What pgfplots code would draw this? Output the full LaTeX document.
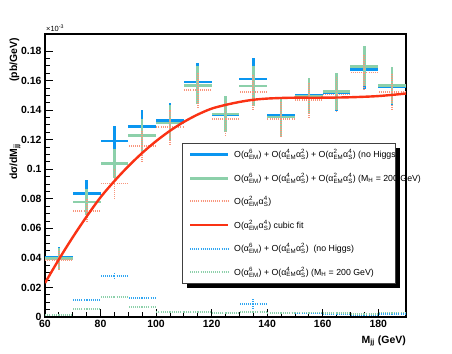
\documentclass[border=0pt]{standalone}
\usepackage{amsmath}
\usepackage{fontspec}
\setmainfont{Liberation Sans}
\usepackage{pgfplots}
\usepackage{pgfplotstable}
\pgfplotsset{compat=1.18}

\definecolor{cblue}{RGB}{10,150,240}
\definecolor{cgreen}{RGB}{140,208,170}
\definecolor{corange}{RGB}{248,150,125}
\definecolor{cred}{RGB}{250,50,20}

% alpha with stacked super/subscript
\newcommand{\ax}[2]{α\ensuremath{^{\text{#1}}_{\text{#2}}}}

% bin centre, value, half bin width, error  (y in units of 1e-3 pb/GeV)
\pgfplotstableread{
x    y       ex  ey
65   0.0401  5   0.0070
75   0.0836  5   0.0090
85   0.1190  5   0.0100
95   0.1290  5   0.0110
105  0.1331  5   0.0120
115  0.1590  5   0.0130
125  0.1370  5   0.0120
135  0.1610  5   0.0140
145  0.1365  5   0.0120
155  0.1498  5   0.0120
165  0.1520  5   0.0125
175  0.1676  5   0.0135
185  0.1556  5   0.0125
}\tblue

\pgfplotstableread{
x    y       ex  ey
65   0.0395  5   0.0070
75   0.0777  5   0.0090
85   0.1038  5   0.0100
95   0.1230  5   0.0110
105  0.1313  5   0.0120
115  0.1568  5   0.0130
125  0.1375  5   0.0120
135  0.1563  5   0.0135
145  0.1353  5   0.0130
155  0.1495  5   0.0120
165  0.1525  5   0.0125
175  0.1697  5   0.0135
185  0.1568  5   0.0125
}\tgreen

\pgfplotstableread{
x    y       ex  ey
65   0.0385  5   0.0065
75   0.0718  5   0.0085
85   0.0903  5   0.0100
95   0.1155  5   0.0110
105  0.1286  5   0.0115
115  0.1534  5   0.0125
125  0.1342  5   0.0120
135  0.1520  5   0.0125
145  0.1338  5   0.0120
155  0.1466  5   0.0120
165  0.1505  5   0.0120
175  0.1654  5   0.0125
185  0.1523  5   0.0120
}\torange

\pgfplotstableread{
x    y       ex  ey
65   0.0014  5   0.0006
75   0.0115  5   0.0010
85   0.0280  5   0.0022
95   0.0130  5   0.0010
105  0.0034  5   0.0008
115  0.0036  5   0.0008
125  0.0027  5   0.0008
135  0.0088  5   0.0040
145  0.0027  5   0.0008
155  0.0028  5   0.0008
165  0.0022  5   0.0008
175  0.0014  5   0.0006
185  0.0020  5   0.0008
}\tbluedot

\pgfplotstableread{
x    y       ex  ey
65   0.0012  5   0.0005
75   0.0054  5   0.0008
85   0.0135  5   0.0010
95   0.0068  5   0.0008
105  0.0032  5   0.0008
115  0.0035  5   0.0008
125  0.0025  5   0.0008
135  0.0036  5   0.0010
145  0.0025  5   0.0008
155  0.0030  5   0.0008
165  0.0025  5   0.0008
175  0.0022  5   0.0008
185  0.0030  5   0.0008
}\tgreendot

\tikzset{dotline/.style={line width=1.8bp, dash pattern=on 1bp off 1.1bp}}
\pgfplotsset{
  histerr/.style={draw=none, mark=none, error bars/.cd, x dir=both, x explicit,
    y dir=both, y explicit, error mark=none, error bar style={#1}},
}

\begin{document}
\begin{tikzpicture}
\path[use as bounding box] (-45bp,-37bp) rectangle (407bp,317bp);
\begin{axis}[
    at={(0,0)}, anchor=south west,
    scale only axis, width=361bp, height=283bp,
    xmin=60, xmax=190, ymin=0, ymax=0.1915,
    xtick={60,80,...,180}, minor x tick num=3,
    ytick={0,0.02,0.04,0.06,0.08,0.1,0.12,0.14,0.16,0.18}, minor y tick num=3,
    yticklabel style={/pgf/number format/fixed, /pgf/number format/precision=2},
    scaled y ticks=false,
    /pgf/number format/assume math mode=true,
    tick label style={font=\fontsize{10.5}{12}\selectfont\bfseries},
    tick align=inside, xtick pos=bottom, ytick pos=left,
    major tick length=8bp, minor tick length=4.5bp,
    tick style={line width=0.8bp, black},
    axis line style={line width=1.2bp},
]
\addplot[histerr={draw=cblue, line width=2.6bp}]
    table[x=x, y=y, x error=ex, y error=ey] {\tblue};
\addplot[histerr={draw=cgreen, line width=2.6bp}]
    table[x=x, y=y, x error=ex, y error=ey] {\tgreen};
\addplot[histerr={draw=corange, dotline}]
    table[x=x, y=y, x error=ex, y error=ey] {\torange};
\addplot[cred, line width=2.4bp, smooth] coordinates {
    (60,0.023) (65,0.039) (70,0.054) (75,0.068) (80,0.081) (85,0.092)
    (90,0.102) (95,0.111) (100,0.119) (105,0.126) (110,0.132) (115,0.137)
    (120,0.141) (125,0.1435) (130,0.1455) (135,0.147) (140,0.1478)
    (145,0.1482) (150,0.1484) (160,0.1484) (170,0.1487) (180,0.1495) (190,0.1512)
};
\addplot[histerr={draw=cblue!85, dotline}]
    table[x=x, y=y, x error=ex, y error=ey] {\tbluedot};
\addplot[histerr={draw=cgreen, dotline}]
    table[x=x, y=y, x error=ex, y error=ey] {\tgreendot};
\end{axis}

% legend with ROOT-like shadow
\fill[black] (142bp,29bp) rectangle (355bp,169bp);
\filldraw[fill=white, draw=black!75, line width=0.6bp] (137bp,34bp) rectangle (350bp,174bp);
\begin{scope}[every node/.style={anchor=west, inner sep=0pt, font=\fontsize{8.8}{10}\selectfont}]
\draw[cblue, line width=2.6bp] (145bp,162.3bp) -- (183bp,162.3bp);
\node at (189bp,162.3bp) {O(\ax{6}{EM}) + O(\ax{4}{EM}\ax{2}{S}) + O(\ax{2}{EM}\ax{4}{S}) (no Higgs)};
\draw[cgreen, line width=2.6bp] (145bp,138.7bp) -- (183bp,138.7bp);
\node at (189bp,138.7bp) {O(\ax{6}{EM}) + O(\ax{4}{EM}\ax{2}{S}) + O(\ax{2}{EM}\ax{4}{S}) (M\textsubscript{H} = 200 GeV)};
\draw[corange, dotline] (145bp,115.7bp) -- (183bp,115.7bp);
\node at (189bp,115.7bp) {O(\ax{2}{EM}\ax{4}{S})};
\draw[cred, line width=2.4bp] (145bp,91.7bp) -- (183bp,91.7bp);
\node at (189bp,91.7bp) {O(\ax{2}{EM}\ax{4}{S}) cubic fit};
\draw[cblue!85, dotline] (145bp,68.3bp) -- (183bp,68.3bp);
\node at (189bp,68.3bp) {O(\ax{6}{EM}) + O(\ax{4}{EM}\ax{2}{S})\ \ (no Higgs)};
\draw[cgreen, dotline] (145bp,45bp) -- (183bp,45bp);
\node at (189bp,45bp) {O(\ax{6}{EM}) + O(\ax{4}{EM}\ax{2}{S}) (M\textsubscript{H} = 200 GeV)};
\end{scope}

% axis titles
\node[rotate=90, anchor=east, inner sep=0pt, font=\fontsize{10.5}{12}\selectfont\bfseries]
    at (-30bp,279bp) {dσ/dM\textsubscript{jj}\hspace{62bp}(pb/GeV)};
\node[anchor=base east, inner sep=0pt, font=\fontsize{10.5}{12}\selectfont\bfseries]
    at (361bp,-26bp) {M\textsubscript{jj} (GeV)};
\node[anchor=base west, inner sep=0pt, font=\fontsize{7.5}{9}\selectfont]
    at (1bp,285.3bp) {×10\textsuperscript{-3}};
\end{tikzpicture}
\end{document}
